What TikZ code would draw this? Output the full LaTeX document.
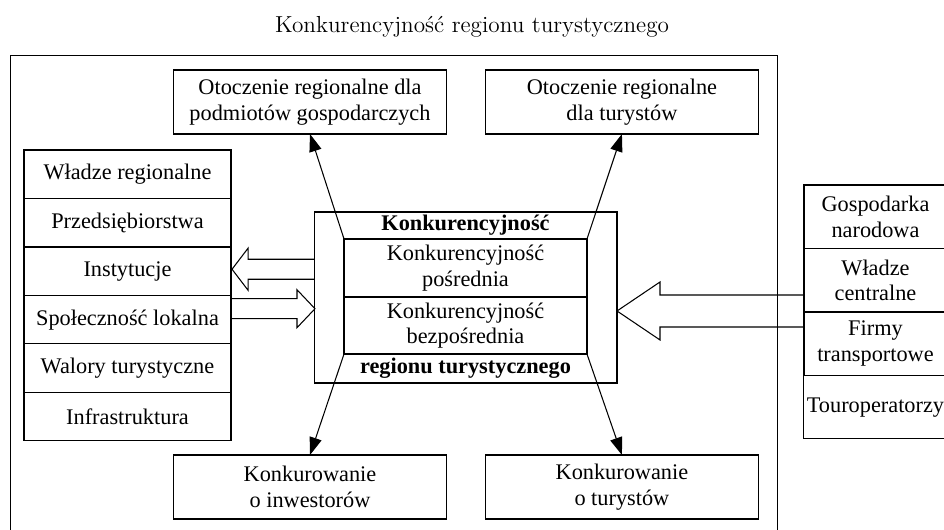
\documentclass[tikz,border=0pt]{standalone}
\usepackage{fontspec}
\newfontfamily\boxfont{Liberation Serif}
\usetikzlibrary{
    positioning,
    calc,
    arrows.meta
}
\tikzset{
  basic/.style = {
      draw,
      line width=0.6pt,
      font=\boxfont\fontsize{12.7pt}{14.5pt}\selectfont,
      rectangle,
      align=center,
      inner sep=2pt,
      outer sep=0pt
  },
  outer box/.style = {
      basic,
      minimum width=5.46cm,
      minimum height=1.28cm
  },
  left cell/.style = {
      basic,
      minimum width=4.14cm,
      minimum height=0.97cm
  },
  right cell/.style = {
      basic,
      minimum width=2.86cm,
      minimum height=1.27cm
  },
  heading/.style = {
      font=\boxfont\fontsize{12.7pt}{14.5pt}\selectfont\bfseries,
      inner sep=0pt
  },
  caption/.style = {
      font=\fontsize{13.2pt}{15pt}\selectfont
  },
  region/.style = {
      draw,
      line width=0.6pt,
      minimum width=15.36cm,
      minimum height=9.9cm,
      outer sep=0pt
  },
  pointer/.style = {
      -{Triangle[length=10pt, width=7pt]},
      line width=0.6pt
  },
  hollow/.style = {
      line width=0.6pt,
      line join=miter
  }
}
\begin{document}
\begin{tikzpicture}[x=0.02cm, y=-0.02cm]
    \useasboundingbox (0,0) rectangle (944,530);
    % Title and frame
    \node[caption] (title) at (472,27) {Konkurencyjność regionu turystycznego};
    \node[region] (frame) at (394,302.5) {};
    % Centre
    \node[basic, minimum width=6.06cm, minimum height=3.42cm] (cbox) at (465.5,297.5) {};
    \node[basic, minimum width=4.86cm, minimum height=1.16cm] (posr) at (465.5,268) {Konkurencyjność\\pośrednia};
    \node[basic, minimum width=4.86cm, minimum height=1.14cm, below=0pt of posr] (bezp) {Konkurencyjność\\bezpośrednia};
    \node[heading] (khead) at ($(cbox.north)!0.5!(posr.north)$) {Konkurencyjność};
    \node[heading] (rhead) at ($(cbox.south)!0.5!(bezp.south)$) {regionu turystycznego};
    % Top and bottom boxes
    \node[outer box] (otoczP) at (310,102) {Otoczenie regionalne dla\\podmiotów gospodarczych};
    \node[outer box, right=0.78cm of otoczP] (otoczT) {Otoczenie regionalne\\dla turystów};
    \node[outer box] (konkI) at (310,487) {Konkurowanie\\o inwestorów};
    \node[outer box, right=0.78cm of konkI] (konkT) {Konkurowanie\\o turystów};
    % Left stack
    \node[left cell] (wladzeR) at (127.5,174.25) {Władze regionalne};
    \node[left cell, below=0pt of wladzeR] (przed) {Przedsiębiorstwa};
    \node[left cell, below=0pt of przed] (inst) {Instytucje};
    \node[left cell, below=0pt of inst] (spol) {Społeczność lokalna};
    \node[left cell, below=0pt of spol] (walory) {Walory turystyczne};
    \node[left cell, below=0pt of walory] (infra) {Infrastruktura};
    % Right stack
    \node[right cell] (gosp) at (875.5,216.75) {Gospodarka\\narodowa};
    \node[right cell, below=0pt of gosp] (wladzeC) {Władze\\centralne};
    \node[right cell, below=0pt of wladzeC] (firmy) {Firmy\\transportowe};
    \node[right cell, below=0pt of firmy] (touro) {Touroperatorzy};
    % Edges
    \draw[pointer] (posr.north west) -- (otoczP.south);
    \draw[pointer] (posr.north east) -- (otoczT.south);
    \draw[pointer] (bezp.south west) -- (konkI.north);
    \draw[pointer] (bezp.south east) -- (konkT.north);
    % Open arrows
    \draw[hollow] (cbox.west |- inst.east) ++(0,-12) -- ++(-66,0) -- ++(0,-11)
        -- ++(-16,21) -- ++(16,21) -- ++(0,-11) -- ++(66,0);
    \draw[hollow] (spol.east) ++(0,-21) -- ++(66,0) -- ++(0,-9)
        -- ++(18,19) -- ++(-18,19) -- ++(0,-9) -- ++(-66,0);
    \draw[hollow] (firmy.north west) ++(0,-17) -- ++(-144,0) -- ++(0,-13)
        -- ++(-43,29) -- ++(43,29) -- ++(0,-13) -- ++(144,0);
\end{tikzpicture}
\end{document}
